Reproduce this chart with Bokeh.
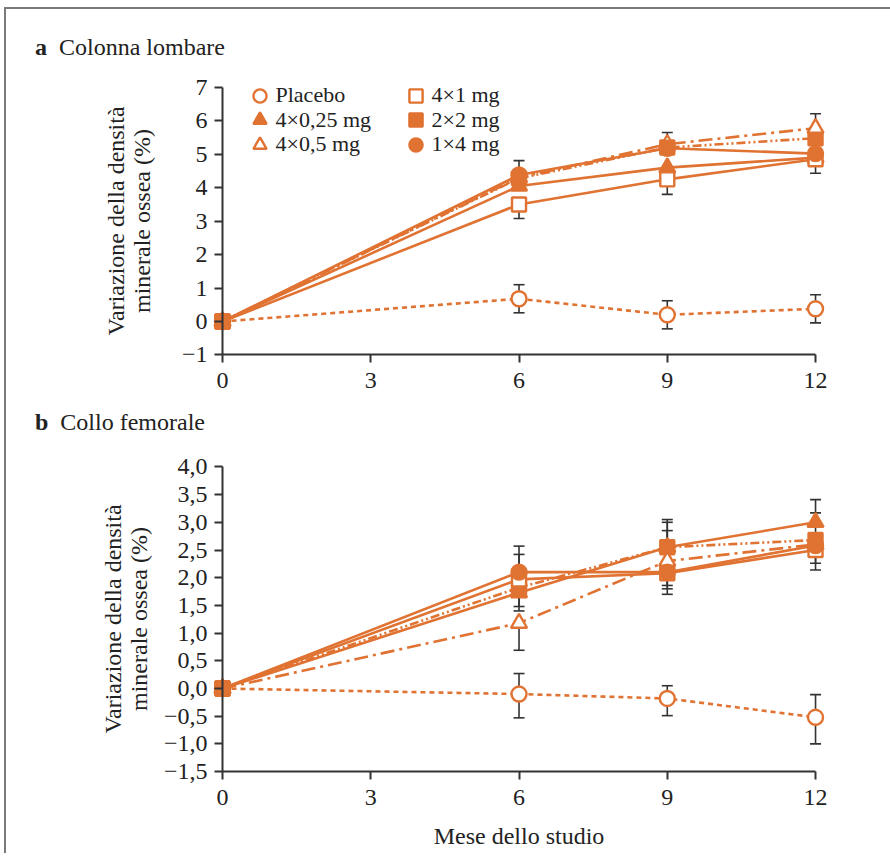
from bokeh.plotting import figure
from bokeh.models import (ColumnDataSource, Whisker, TeeHead, FixedTicker, Legend,
                          LegendItem, Div, Range1d)
from bokeh.layouts import column
from bokeh.embed import file_html
from bokeh.resources import INLINE

FONT = "Liberation Serif"
FS = "24px"
LEG_FS = "22px"
ORANGE = "#E07232"
GREY = "#333333"
TEXT = "#222222"

# ---------------- data ----------------
months = [0, 6, 9, 12]
x_ticks = [0, 3, 6, 9, 12]
x_tick_labels = ["0", "3", "6", "9", "12"]
group_labels = ["Placebo", "4×0,25 mg", "4×0,5 mg", "4×1 mg", "2×2 mg", "1×4 mg"]

# a: Colonna lombare (variation %, months 0/6/9/12)
a_placebo = [0, 0.68, 0.20, 0.38]
a_025 = [0, 4.05, 4.60, 4.90]
a_05 = [0, 4.30, 5.30, 5.78]
a_1 = [0, 3.50, 4.25, 4.85]
a_2x2 = [0, 4.28, 5.20, 5.48]
a_1x4 = [0, 4.38, 5.18, 5.02]
# error bar half-lengths (upper / lower)
a_placebo_up = [0, 0.42, 0.42, 0.42]
a_placebo_dn = [0, 0.42, 0.42, 0.42]
a_025_up = [0, 0, 0, 0]
a_025_dn = [0, 0, 0, 0]
a_05_up = [0, 0, 0, 0.43]
a_05_dn = [0, 0, 0, 0]
a_1_up = [0, 0, 0, 0]
a_1_dn = [0, 0.42, 0.45, 0.42]
a_2x2_up = [0, 0, 0, 0]
a_2x2_dn = [0, 0, 0, 0]
a_1x4_up = [0, 0.43, 0.47, 0]
a_1x4_dn = [0, 0, 0, 0]
a_y_ticks = [-1, 0, 1, 2, 3, 4, 5, 6, 7]
a_y_tick_labels = ["−1", "0", "1", "2", "3", "4", "5", "6", "7"]

# b: Collo femorale
b_placebo = [0, -0.10, -0.18, -0.52]
b_025 = [0, 1.73, 2.55, 3.00]
b_05 = [0, 1.18, 2.30, 2.60]
b_1 = [0, 1.97, 2.08, 2.50]
b_2x2 = [0, 1.82, 2.55, 2.68]
b_1x4 = [0, 2.10, 2.10, 2.58]
b_placebo_up = [0, 0.37, 0.23, 0.41]
b_placebo_dn = [0, 0.43, 0.31, 0.48]
b_025_up = [0, 0, 0.50, 0.41]
b_025_dn = [0, 0.33, 0, 0]
b_05_up = [0, 0, 0.55, 0]
b_05_dn = [0, 0.49, 0.44, 0]
b_1_up = [0, 0.45, 0, 0]
b_1_dn = [0, 0.49, 0.38, 0.24]
b_2x2_up = [0, 0, 0.45, 0.49]
b_2x2_dn = [0, 0, 0, 0]
b_1x4_up = [0, 0.47, 0, 0]
b_1x4_dn = [0, 0, 0.30, 0.44]
b_y_ticks = [-1.5, -1.0, -0.5, 0.0, 0.5, 1.0, 1.5, 2.0, 2.5, 3.0, 3.5, 4.0]
b_y_tick_labels = ["−1,5", "−1,0", "−0,5", "0,0", "0,5", "1,0", "1,5", "2,0",
                   "2,5", "3,0", "3,5", "4,0"]

y_label = "Variazione della densità\nminerale ossea (%)"
x_label = "Mese dello studio"
title_a = ("a", "Colonna lombare")
title_b = ("b", "Collo femorale")

# ---------------- styles / layout ----------------
styles = {
    "Placebo":   dict(marker="circle", fill="white", dash="5 4"),
    "4×0,25 mg": dict(marker="triangle", fill=ORANGE, dash="solid"),
    "4×0,5 mg":  dict(marker="triangle", fill="white", dash="14 5 3 5"),
    "4×1 mg":    dict(marker="square", fill="white", dash="solid"),
    "2×2 mg":    dict(marker="square", fill=ORANGE, dash="9 3 2 3 2 3"),
    "1×4 mg":    dict(marker="circle", fill=ORANGE, dash="solid"),
}
draw_order = ["Placebo", "2×2 mg", "4×0,25 mg", "4×0,5 mg", "4×1 mg", "1×4 mg"]
msize = {"circle": 15, "square": 14, "triangle": 16}

# page geometry (pixels)
ORIGIN_X, ORIGIN_Y = 6, 9          # content origin of the column
W = 846                            # figure width
MBL, MBR = 40, 20                  # figure borders left/right
PX_MONTH = 49.42                   # px per month
X0_PAGE = 222                      # page x of month 0
FRAME_L = ORIGIN_X + MBL
FRAME_R = ORIGIN_X + W - MBR
x_start = -(X0_PAGE - FRAME_L) / PX_MONTH
x_end = (FRAME_R - X0_PAGE) / PX_MONTH

DIV_A_H = 51
FIG_A_TOP = ORIGIN_Y + DIV_A_H     # 60
FIG_A_H = 339
A_MBT = 18
A_PX = 33.45
A_ZERO = 321
a_frame_top = FIG_A_TOP + A_MBT
a_frame_bot = FIG_A_TOP + FIG_A_H
a_y_end = (A_ZERO - a_frame_top) / A_PX
a_y_start = (A_ZERO - a_frame_bot) / A_PX

DIV_B_H = 46
FIG_B_TOP = a_frame_bot + DIV_B_H  # 445
FIG_B_H = 408
B_PX = 55.4
B_ZERO = 688
b_frame_top = FIG_B_TOP
b_frame_bot = FIG_B_TOP + FIG_B_H
b_y_end = (B_ZERO - b_frame_top) / B_PX
b_y_start = (B_ZERO - b_frame_bot) / B_PX


def build(vals, ups, dns, y0, y1, yticks, ylabels, height, mb_top, ylab_standoff, xlab=None):
    p = figure(width=W, height=height, x_range=Range1d(x_start, x_end), y_range=Range1d(y0, y1),
               output_backend="svg", toolbar_location=None,
               min_border_left=MBL, min_border_right=MBR,
               min_border_top=mb_top, min_border_bottom=0)
    p.outline_line_color = None
    p.grid.visible = False
    p.background_fill_color = "white"
    p.border_fill_color = "white"

    for ax in (p.xaxis[0], p.yaxis[0]):
        ax.axis_line_color = GREY
        ax.axis_line_width = 2
        ax.major_tick_line_color = GREY
        ax.major_tick_line_width = 2
        ax.major_tick_in = 0
        ax.major_tick_out = 8
        ax.minor_tick_line_color = None
        ax.major_label_text_font = FONT
        ax.major_label_text_font_size = FS
        ax.major_label_text_color = TEXT
        ax.axis_label_text_font = FONT
        ax.axis_label_text_font_size = FS
        ax.axis_label_text_font_style = "normal"
        ax.axis_label_text_color = TEXT
        ax.axis_label_text_line_height = 1.0

    p.xaxis.major_label_standoff = 10
    p.yaxis.major_label_standoff = 7
    p.xaxis.ticker = FixedTicker(ticks=x_ticks)
    p.xaxis.major_label_overrides = {t: l for t, l in zip(x_ticks, x_tick_labels)}
    p.xaxis.bounds = (x_ticks[0], x_ticks[-1])
    p.xaxis.fixed_location = yticks[0]
    p.yaxis.ticker = FixedTicker(ticks=yticks)
    p.yaxis.major_label_overrides = {t: l for t, l in zip(yticks, ylabels)}
    p.yaxis.bounds = (yticks[0], yticks[-1])
    p.yaxis.fixed_location = x_ticks[0]
    p.yaxis.axis_label = y_label
    p.yaxis.axis_label_standoff = ylab_standoff
    if xlab:
        p.xaxis.axis_label = xlab
        p.xaxis.axis_label_standoff = 15

    # error bars
    ex, elo, ehi = [], [], []
    for name in draw_order:
        for m, v, u, d in zip(months, vals[name], ups[name], dns[name]):
            if u > 0 or d > 0:
                ex.append(m)
                elo.append(v - d)
                ehi.append(v + u)
    esrc = ColumnDataSource(dict(x=ex, lower=elo, upper=ehi))
    wk = Whisker(source=esrc, base="x", lower="lower", upper="upper", dimension="height",
                 line_color=GREY, line_width=1.6, level="underlay",
                 upper_head=TeeHead(size=11, line_color=GREY, line_width=1.6),
                 lower_head=TeeHead(size=11, line_color=GREY, line_width=1.6))
    p.add_layout(wk)

    for name in draw_order:
        st = styles[name]
        p.line(months, vals[name], line_color=ORANGE, line_width=2.6, line_dash=st["dash"])

    renderers = {}
    for name in draw_order:
        st = styles[name]
        renderers[name] = p.scatter(months, vals[name], marker=st["marker"], size=msize[st["marker"]],
                                    fill_color=st["fill"], line_color=ORANGE, line_width=2.4)
    # the common baseline point is shown with the filled square on top
    st = styles["2×2 mg"]
    p.scatter(months[:1], vals["2×2 mg"][:1], marker=st["marker"], size=msize[st["marker"]],
              fill_color=st["fill"], line_color=ORANGE, line_width=2.4)
    return p, renderers


vals_a = dict(zip(group_labels, [a_placebo, a_025, a_05, a_1, a_2x2, a_1x4]))
ups_a = dict(zip(group_labels, [a_placebo_up, a_025_up, a_05_up, a_1_up, a_2x2_up, a_1x4_up]))
dns_a = dict(zip(group_labels, [a_placebo_dn, a_025_dn, a_05_dn, a_1_dn, a_2x2_dn, a_1x4_dn]))
vals_b = dict(zip(group_labels, [b_placebo, b_025, b_05, b_1, b_2x2, b_1x4]))
ups_b = dict(zip(group_labels, [b_placebo_up, b_025_up, b_05_up, b_1_up, b_2x2_up, b_1x4_up]))
dns_b = dict(zip(group_labels, [b_placebo_dn, b_025_dn, b_05_dn, b_1_dn, b_2x2_dn, b_1x4_dn]))

pa, ra = build(vals_a, ups_a, dns_a, a_y_start, a_y_end, a_y_ticks, a_y_tick_labels,
               height=FIG_A_H, mb_top=A_MBT, ylab_standoff=24)
pb, rb = build(vals_b, ups_b, dns_b, b_y_start, b_y_end, b_y_ticks, b_y_tick_labels,
               height=FIG_B_H, mb_top=0, ylab_standoff=9, xlab=x_label)

# legend: two columns of three rows, one single-item legend per entry
GLYPH = 33
leg_cols_x = [259, 415]            # page x of legend marker centres
leg_rows_y = [95, 119.5, 144]      # page y of legend rows
for i, name in enumerate(group_labels):
    cx = leg_cols_x[i // 3]
    cy = leg_rows_y[i % 3]
    vx = cx - GLYPH / 2 - FRAME_L
    vy = a_frame_bot - (cy + GLYPH / 2)
    leg = Legend(items=[LegendItem(label=name, renderers=[ra[name]])],
                 location=(vx, vy), orientation="vertical",
                 padding=0, margin=0, border_line_color=None, background_fill_alpha=0,
                 glyph_width=GLYPH, glyph_height=GLYPH, spacing=0, label_standoff=0,
                 label_text_font=FONT, label_text_font_size=LEG_FS, label_text_color=TEXT)
    pa.add_layout(leg)


def title_div(t, height, pad_top):
    html = ('<div style="font-family:\'Liberation Serif\';font-size:24px;color:#222;'
            'padding-top:%dpx;padding-left:29px;white-space:nowrap">'
            '<b>%s</b>&nbsp;&nbsp;%s</div>' % (pad_top, t[0], t[1]))
    return Div(text=html, width=884, height=height, margin=0)

layout = column(title_div(title_a, DIV_A_H, 21), pa, title_div(title_b, DIV_B_H, 6), pb,
                spacing=0, margin=(7, 0, 0, 4),
                styles={"border-left": "2px solid #7a7a7a", "border-top": "2px solid #7a7a7a"})

open("out.html", "w").write(file_html(layout, INLINE))
